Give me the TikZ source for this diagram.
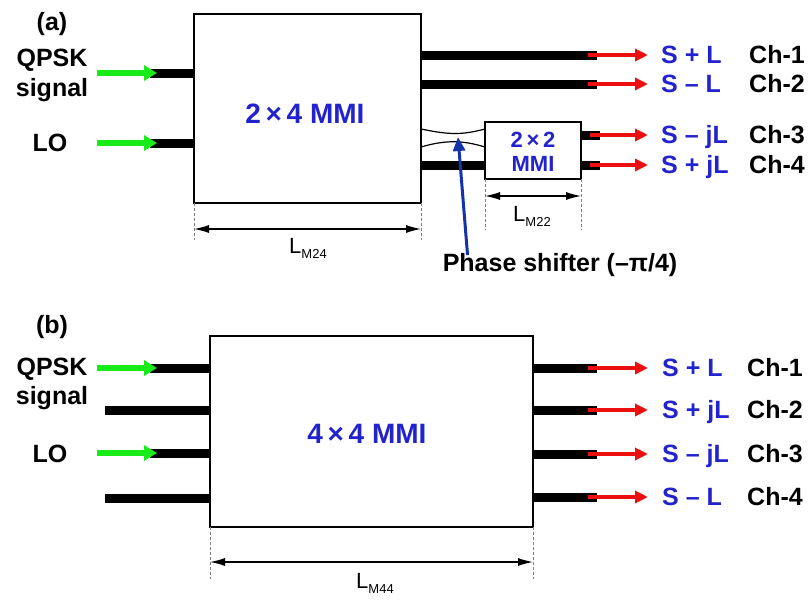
\documentclass[tikz,border=0pt]{standalone}
\usepackage{fontspec}
\setmainfont{Liberation Sans}
\usetikzlibrary{arrows.meta}
\definecolor{mblue}{RGB}{35,35,205}
\definecolor{dblue}{RGB}{20,50,170}
\definecolor{mgreen}{RGB}{25,235,25}
\definecolor{mred}{RGB}{235,15,15}
\newcommand{\dimlab}[1]{L\raisebox{-5pt}{\fontsize{13}{13}\selectfont #1}}
\begin{document}
\begin{tikzpicture}[x=1pt,y=-1pt,
 box/.style={draw, line width=2.5pt, fill=white, outer sep=0pt, inner sep=0pt},
 wg/.style={line width=9pt},
 inarr/.style={mgreen, line width=6pt, -{Triangle[length=13pt,width=15pt]}},
 outarr/.style={mred, line width=4pt, -{Triangle[length=13pt,width=12pt]}},
 dim/.style={line width=1.2pt, {Latex[length=15pt,width=8pt]}-{Latex[length=15pt,width=8pt]}},
 dsh/.style={densely dashed, line width=0.6pt, gray},
 lbl/.style={font=\bfseries\fontsize{25}{25}\selectfont, inner sep=0pt, text height=17.5pt, text depth=0pt},
 blbl/.style={lbl, text=mblue},
 mlbl/.style={lbl, text=mblue, font=\bfseries\fontsize{28}{28}\selectfont, text height=20pt},
 slbl/.style={font=\bfseries\fontsize{22}{22}\selectfont, inner sep=0pt, text height=15.5pt, text depth=0pt, text=mblue},
 dlbl/.style={font=\fontsize{22}{22}\selectfont, inner sep=0pt},
 barr/.style={dblue, line width=3pt, -{Triangle[length=14pt,width=12pt]}},
]
\useasboundingbox (0,0) rectangle (809,600);

% ---------------- (a) ----------------
\node[lbl] (la) at (52,22) {(a)};
\node[lbl] (qa) at (52,58) {QPSK};
\node[lbl] (sa) at (52,88) {signal};
\node[lbl] (loa) at (50,143) {LO};

\node[box, minimum width=227pt, minimum height=189pt, anchor=north west] (m24) at (194,14) {};
\node[mlbl] (t24) at (305,113) {2\,×\,4 MMI};

\node[box, minimum width=96pt, minimum height=57pt, anchor=north west] (m22) at (485,122) {};
\node[slbl] (t22a) at (533,140) {2\,×\,2};
\node[slbl] (t22b) at (533,164) {MMI};

% inputs
\coordinate (qa0) at (150,73);
\coordinate (la0) at (150,143);
\draw[wg] (qa0) -- (m24.west |- qa0);
\draw[wg] (la0) -- (m24.west |- la0);
\draw[inarr] (97,73) -- (157,73);
\draw[inarr] (97,143) -- (157,143);

% outputs ch1, ch2
\foreach \y/\s/\c in {55/{S + L}/Ch-1, 84/{S – L}/Ch-2}{
  \draw[wg] (m24.east |- 0,\y) -- (597,\y);
  \draw[outarr] (588,\y) -- (648,\y);
  \node[blbl, anchor=west] at (661,\y) {\s};
  \node[lbl, anchor=west] at (749,\y) {\c};
}
% phase shifter (tapered waveguide)
\draw[line width=1.2pt] (m24.east |- 0,129) .. controls (450,135) and (462,135) .. (m22.west |- 0,129);
\draw[line width=1.2pt] (m24.east |- 0,147) .. controls (445,140) and (462,140) .. (m22.west |- 0,147);
% lower input to 2x2
\draw[wg] (m24.east |- 0,165) -- (m22.west |- 0,165);
% outputs ch3, ch4
\foreach \y/\s/\c in {135/{S – jL}/Ch-3, 165/{S + jL}/Ch-4}{
  \draw[wg] (m22.east |- 0,\y) -- (600,\y);
  \draw[outarr] (590,\y) -- (648,\y);
  \node[blbl, anchor=west] at (661,\y) {\s};
  \node[lbl, anchor=west] at (749,\y) {\c};
}

% dimensions (a)
\draw[dsh] (m24.south west) -- ++(0,37);
\draw[dsh] (m24.south east) -- ++(0,37);
\draw[dim] (m24.south west |- 0,229) -- (m24.south east |- 0,229);
\node[dlbl] (lm24) at (308,248) {\dimlab{M24}};

\draw[dsh] (m22.south west) -- ++(0,51);
\draw[dsh] (m22.south east) -- ++(0,51);
\draw[dim] (m22.south west |- 0,196) -- (m22.south east |- 0,196);
\node[dlbl] (lm22) at (532,216) {\dimlab{M22}};

\node[lbl] (ps) at (560,263) {Phase shifter (–π/4)};
\coordinate (pstip) at (458,137);
\draw[barr] ([xshift=25pt,yshift=-1pt]ps.north west) -- (pstip);

% ---------------- (b) ----------------
\node[lbl] (lb) at (52,325) {(b)};
\node[lbl] (qb) at (52,367) {QPSK};
\node[lbl] (sb) at (52,396) {signal};
\node[lbl] (lob) at (50,454) {LO};

\node[box, minimum width=323pt, minimum height=191pt, anchor=north west] (m44) at (210,336) {};
\node[mlbl] (t44) at (367,433) {4\,×\,4 MMI};

\foreach \y in {368,453}{
  \draw[wg] (150,\y) -- (m44.west |- 0,\y);
  \draw[inarr] (97,\y) -- (157,\y);
}
\foreach \y in {410,498}{
  \draw[wg] (105,\y) -- (m44.west |- 0,\y);
}
\foreach \y/\s/\c in {368/{S + L}/Ch-1, 410/{S + jL}/Ch-2, 454/{S – jL}/Ch-3, 497/{S – L}/Ch-4}{
  \draw[wg] (m44.east |- 0,\y) -- (597,\y);
  \draw[outarr] (588,\y) -- (648,\y);
  \node[blbl, anchor=west] at (662,\y) {\s};
  \node[lbl, anchor=west] at (747,\y) {\c};
}

\draw[dsh] (m44.south west) -- ++(0,52);
\draw[dsh] (m44.south east) -- ++(0,52);
\draw[dim] (m44.south west |- 0,562) -- (m44.south east |- 0,562);
\node[dlbl] (lm44) at (375,583) {\dimlab{M44}};
\end{tikzpicture}
\end{document}
